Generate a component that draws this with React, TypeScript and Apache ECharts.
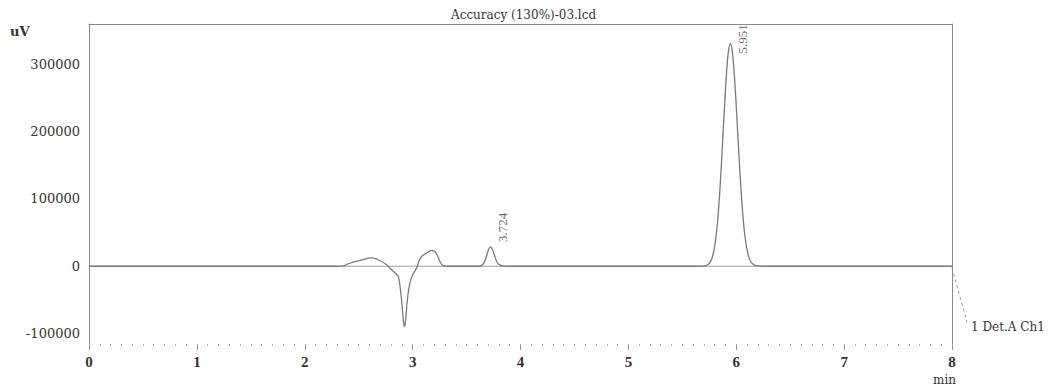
import React, { useEffect, useRef } from 'react';
import * as echarts from 'echarts';

const titleText = 'Accuracy (130%)-03.lcd';
const yUnit = 'uV';
const xUnit = 'min';
const detectorLabel = '1 Det.A Ch1';

// chromatogram segments: [time (min), signal (uV)]
const flatStart: [number, number][] = [[0, 0], [0.5, 0], [1, 0], [1.5, 0], [2, 0], [2.3, 0]];
const disturbance: [number, number][] = [
  [2.36, 500], [2.4, 3500], [2.45, 6000], [2.51, 8600], [2.56, 10500], [2.6, 12500], [2.64, 12000],
  [2.7, 8200], [2.75, 3500], [2.79, -2700], [2.83, -9000], [2.866, -15000], [2.885, -32000],
  [2.9, -55000], [2.915, -82000], [2.925, -90000], [2.935, -80000], [2.95, -52000], [2.965, -33000],
  [2.98, -22000], [3.0, -13000], [3.037, -2700], [3.06, 8000], [3.083, 14500], [3.13, 19600],
  [3.176, 23500], [3.2, 22500], [3.223, 18000], [3.245, 10000], [3.27, 2500], [3.3, 500], [3.35, 0],
];
const flatMid: [number, number][] = [[3.45, 0], [3.55, 0], [3.62, 0]];
const peakA: [number, number][] = [
  [3.642, 1500], [3.652, 3000], [3.662, 5400], [3.672, 9000], [3.682, 13700], [3.692, 18900],
  [3.702, 23700], [3.712, 27200], [3.722, 28500], [3.732, 27400], [3.742, 24200], [3.752, 19600],
  [3.762, 14600], [3.772, 10000], [3.782, 6400], [3.792, 3900], [3.805, 2000], [3.825, 900],
  [3.85, 300], [3.9, 0],
];
const flatLate: [number, number][] = [[4.2, 0], [4.5, 0], [5.0, 0], [5.3, 0], [5.6, 0]];
const peakB: [number, number][] = [
  [5.68, 200], [5.705, 450], [5.745, 3400], [5.765, 8000], [5.785, 17500], [5.805, 34800],
  [5.825, 63300], [5.845, 105000], [5.865, 158800], [5.885, 219000], [5.905, 275500], [5.925, 316000],
  [5.945, 331000], [5.965, 317000], [5.985, 278000], [6.005, 224000], [6.025, 165000], [6.045, 112000],
  [6.065, 69000], [6.085, 39000], [6.105, 20500], [6.125, 10000], [6.145, 4600], [6.17, 1800],
  [6.21, 500], [6.3, 0],
];
const flatEnd: [number, number][] = [[6.5, 0], [7, 0], [7.5, 0], [8, 0]];
const baselineTrace: [number, number][] = [[0, 0], [8, 0]];

const peakTimes = [3.724, 5.951];
const peakHeights = [28500, 331000];

const SERIF = "'Liberation Serif', 'Times New Roman', serif";
const WIDE = "'DejaVu Serif', serif";

export default function App() {
  const ref = useRef<HTMLDivElement>(null);
  useEffect(() => {
    if (!ref.current) return;
    const chart = echarts.init(ref.current, null, { renderer: 'svg' });
    const signal = [...flatStart, ...disturbance, ...flatMid, ...peakA, ...flatLate, ...peakB, ...flatEnd];
    // offsets are in the label's rotated frame: [up, right]
    const labelOffsets = [[5, 12], [-10, 12]];
    chart.setOption({
      animation: false,
      backgroundColor: '#ffffff',
      title: {
        text: titleText,
        left: 446,
        top: 4,
        textStyle: { fontFamily: WIDE, fontSize: 12, fontWeight: 'normal', color: '#333' },
      },
      grid: { left: 89, right: 109, top: 24, bottom: 40 },
      xAxis: [
        {
          type: 'value', min: 0, max: 8, interval: 0.1, position: 'bottom', offset: -3,
          axisLine: { show: false, onZero: false },
          axisTick: { show: true, length: 2, lineStyle: { color: '#aaa' } },
          splitLine: { show: false },
          axisLabel: {
            margin: 10,
            fontFamily: SERIF, fontSize: 15, fontWeight: 'bold', color: '#333',
            formatter: (v: number) => (Math.abs(v - Math.round(v)) < 1e-6 ? String(Math.round(v)) : ''),
          },
        },
        {
          type: 'value', min: 0, max: 8, interval: 1, position: 'bottom', offset: -3,
          axisLine: { show: false, onZero: false },
          axisTick: { show: true, length: 6, lineStyle: { color: '#999' } },
          splitLine: { show: false },
          axisLabel: { show: false },
        },
        {
          type: 'value', min: 0, max: 8, position: 'top',
          axisLine: { show: true, onZero: false, lineStyle: { color: '#888' } },
          axisTick: { show: false }, splitLine: { show: false }, axisLabel: { show: false },
        },
      ],
      yAxis: [
        {
          type: 'value', min: -120000, max: 360000, interval: 20000, position: 'left',
          axisLine: { show: true, onZero: false, lineStyle: { color: '#888' } },
          axisTick: { show: false },
          splitLine: { show: false },
          axisLabel: {
            margin: 9,
            fontFamily: WIDE, fontSize: 13, color: '#333',
            formatter: (v: number) => (Math.abs(v % 100000) < 1 ? String(v) : ''),
          },
        },
        {
          type: 'value', min: -120000, max: 360000, position: 'right',
          axisLine: { show: true, onZero: false, lineStyle: { color: '#888' } },
          axisTick: { show: false }, splitLine: { show: false }, axisLabel: { show: false },
        },
      ],
      series: [
        {
          type: 'line', xAxisIndex: 0, yAxisIndex: 0, data: baselineTrace, symbol: 'none',
          lineStyle: { color: '#b59582', width: 1 }, silent: true,
        },
        {
          type: 'line', xAxisIndex: 0, yAxisIndex: 0, data: signal, symbol: 'none', smooth: 0.3,
          lineStyle: { color: '#7a7a7a', width: 1.3 },
        },
        {
          type: 'scatter', xAxisIndex: 0, yAxisIndex: 0, symbolSize: 0,
          data: peakTimes.map((t, i) => ({
            value: [t, peakHeights[i]],
            label: { offset: labelOffsets[i] },
          })),
          label: {
            show: true, position: 'inside', rotate: 90, align: 'left', verticalAlign: 'middle',
            fontFamily: SERIF, fontSize: 13, color: '#444',
            formatter: (p: any) => p.value[0].toFixed(3),
          },
        },
      ],
      graphic: [
        { type: 'text', left: 10, top: 25, style: { text: yUnit, font: `bold 13px ${WIDE}`, fill: '#333' } },
        { type: 'text', left: 933, top: 374, style: { text: xUnit, font: `12px ${WIDE}`, fill: '#333' } },
        { type: 'text', left: 971, top: 321, style: { text: detectorLabel, font: `12px ${WIDE}`, fill: '#333' } },
        {
          type: 'line', shape: { x1: 952, y1: 268, x2: 967, y2: 322 },
          style: { stroke: '#999', lineWidth: 1, lineDash: [3, 3] },
        },
      ],
    });
    return () => chart.dispose();
  }, []);
  return <div ref={ref} style={{ position: 'fixed', left: 0, top: 0, width: 1061, height: 387, background: '#fff' }} />;
}
